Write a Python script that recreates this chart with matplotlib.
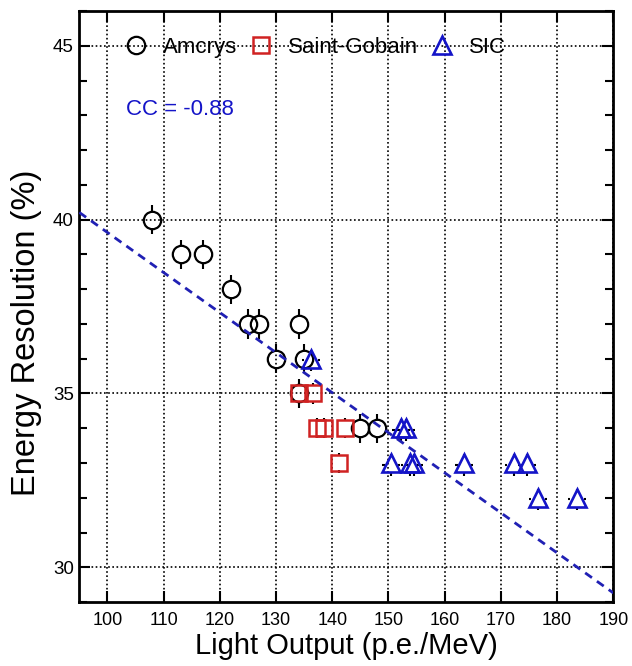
import numpy as np
import matplotlib
matplotlib.use("Agg")
import matplotlib.pyplot as plt
from matplotlib.ticker import MultipleLocator

plt.rcParams['font.family'] = ['Liberation Sans', 'DejaVu Sans']

# light output (p.e./MeV) and energy resolution (%) per vendor
amcrys_lo = [108, 113, 117, 122, 125, 127, 134, 130, 135, 134, 145, 148]
amcrys_er = [40, 39, 39, 38, 37, 37, 37, 36, 36, 35, 34, 34]
sg_lo = [134, 136.6, 137.3, 138.6, 142.3, 141.2]
sg_er = [35, 35, 34, 34, 34, 33]
sic_lo = [136.2, 152.3, 153.2, 150.5, 153.8, 154.6, 163.5, 172.3, 174.6, 176.6, 183.5]
sic_er = [36, 34, 34, 33, 33, 33, 33, 33, 33, 32, 32]

# linear fit over all crystals
fit_slope = -0.1152
fit_icpt = 51.15
cc_text = "CC = -0.88"

RED = '#d02222'
BLUE = '#1414c8'
LINE_BLUE = '#2020b4'


def outer_vbars(ax, x, y, err, gap, color):
    # error bars drawn only outside the open marker
    x = np.asarray(x, float)
    y = np.asarray(y, float)
    ax.vlines(x, y + gap, y + err, color=color, lw=1.5, zorder=3)
    ax.vlines(x, y - err, y - gap, color=color, lw=1.5, zorder=3)


def outer_hbars(ax, x, y, err, gap, color):
    x = np.asarray(x, float)
    y = np.asarray(y, float)
    ax.hlines(y, x + gap, x + err, color=color, lw=1.5, zorder=3)
    ax.hlines(y, x - err, x - gap, color=color, lw=1.5, zorder=3)


fig = plt.figure(figsize=(6.32, 6.66), dpi=100)
ax = fig.add_axes([0.1255, 0.096, 0.845, 0.8875])

ax.set_xlim(95, 190)
ax.set_ylim(29, 46)

ax.xaxis.set_major_locator(MultipleLocator(10))
ax.yaxis.set_major_locator(MultipleLocator(5))
ax.yaxis.set_minor_locator(MultipleLocator(1))
ax.tick_params(which='both', direction='in', top=True, right=True,
               width=1.5, labelsize=13, color='black')
ax.tick_params(which='major', length=8, pad=7)
ax.tick_params(which='minor', length=6)
ax.tick_params(axis='y', which='major', labelsize=13.5, pad=4)
for s in ax.spines.values():
    s.set_linewidth(2)

ax.grid(True, which='major', color='black', linestyle=(0, (1, 1.5)), linewidth=1.2)
ax.set_axisbelow(True)

ms = 12.5
ax.plot(amcrys_lo, amcrys_er, 'o', ms=ms, mfc='none', mec='black', mew=1.6, zorder=4)
outer_vbars(ax, amcrys_lo, amcrys_er, 0.42, 0.25, 'black')

ax.plot(sg_lo, sg_er, 's', ms=11, mfc='none', mec=RED, mew=1.8, zorder=4)
outer_vbars(ax, sg_lo, sg_er, 0.29, 0.21, 'black')

ax.plot(sic_lo, sic_er, '^', ms=12.5, mfc='none', mec=BLUE, mew=1.9, zorder=4)
outer_vbars(ax, sic_lo, np.asarray(sic_er) - 0.05, 0.31, 0.23, 'black')
outer_hbars(ax, sic_lo, np.asarray(sic_er) - 0.05, 1.6, 1.2, 'black')

xs = np.array(ax.get_xlim())
ax.plot(xs, fit_icpt + fit_slope * xs, color=LINE_BLUE, lw=2,
        linestyle=(0, (3, 2.2)), zorder=5)

ax.text(103.3, 43.17, cc_text, color=BLUE, fontsize=16, ha='left', va='center')

h1, = ax.plot([], [], 'o', ms=ms, mfc='none', mec='black', mew=1.6)
h2, = ax.plot([], [], 's', ms=11, mfc='none', mec=RED, mew=1.8)
h3, = ax.plot([], [], '^', ms=12.5, mfc='none', mec=BLUE, mew=1.9)
ax.legend([h1, h2, h3], ['Amcrys', 'Saint-Gobain', 'SIC'], loc='center',
          bbox_to_anchor=(0.44, 0.938), ncol=3, frameon=False, fontsize=16,
          handlelength=1.2, handletextpad=0.6, columnspacing=0.5,
          borderpad=0, borderaxespad=0)

ax.set_xlabel('Light Output (p.e./MeV)', fontsize=21, labelpad=2)
ax.set_ylabel('Energy Resolution (%)', fontsize=23.5)
ax.yaxis.set_label_coords(-0.069, 0.455)

fig.savefig('out.png', dpi=100)
